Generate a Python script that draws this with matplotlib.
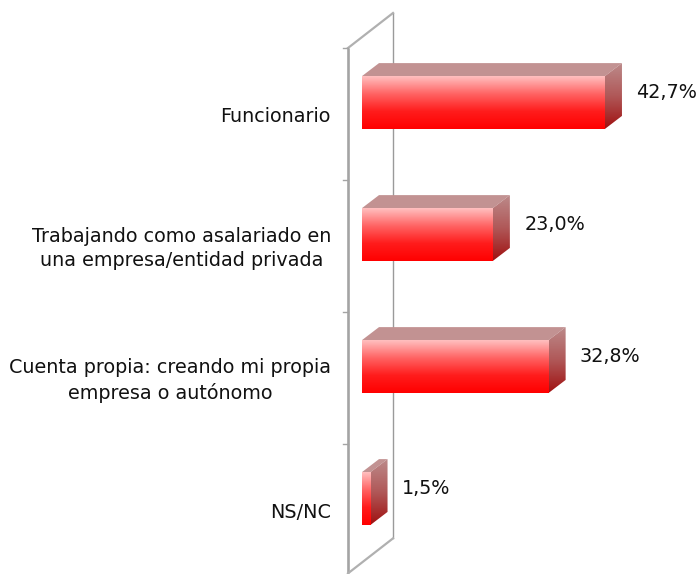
import numpy as np
import matplotlib
matplotlib.use("Agg")
import matplotlib.pyplot as plt
from matplotlib.patches import Polygon
from matplotlib.colors import LinearSegmentedColormap

categories = ["Funcionario",
              "Trabajando como asalariado en\nuna empresa/entidad privada",
              "Cuenta propia: creando mi propia\nempresa o autónomo",
              "NS/NC"]
values = [42.7, 23.0, 32.8, 1.5]

# 3D look, in data units (x = %, y = category index)
WALL_DX, WALL_DY = 7.91, -0.265      # depth of the floor/wall
BAR_X0, BAR_Y0 = 2.46, -0.087        # front face of bars inside the depth
BAR_DX, BAR_DY = 2.99, -0.0985       # bar thickness
BAR_H = 0.40

front_cmap = LinearSegmentedColormap.from_list(
    "front", ["#ffc0c0", "#ff6464", "#ff1c1c", "#ff0000"])
side_cmap = LinearSegmentedColormap.from_list(
    "side", ["#bc8a8a", "#b05858", "#a01010"])
grad = np.linspace(0, 1, 256).reshape(-1, 1)


def shaded(ax, verts, cmap):
    verts = np.asarray(verts)
    patch = Polygon(verts, closed=True, facecolor="none", edgecolor="none")
    ax.add_patch(patch)
    x0, x1 = verts[:, 0].min(), verts[:, 0].max()
    y0, y1 = verts[:, 1].min(), verts[:, 1].max()
    im = ax.imshow(grad, cmap=cmap, aspect="auto", extent=(x0, x1, y1, y0),
                   interpolation="bilinear", zorder=3)
    im.set_clip_path(patch)


fig = plt.figure(figsize=(6.99, 5.74), dpi=100)
ax = fig.add_axes([0, 0, 1, 1])

# wall on the left (value 0 plane)
n = len(categories)
top, bot = -0.5, n - 0.5 - 0.02
ax.add_patch(Polygon([(0, top), (WALL_DX, top + WALL_DY),
                      (WALL_DX, bot + WALL_DY), (0, bot)],
                     closed=True, facecolor="white", edgecolor="none", zorder=1))
ax.plot([0, 0], [top, bot], color="#a4a4a4", lw=1.9, zorder=2,
        solid_capstyle="butt")
ax.plot([WALL_DX, WALL_DX], [top + WALL_DY, bot + WALL_DY], color="#9a9a9a",
        lw=1.0, zorder=2)
for yy in (top, bot):
    ax.plot([0, WALL_DX], [yy, yy + WALL_DY], color="#b0b0b0", lw=1.6, zorder=2)
for i in range(n):
    ax.plot([-0.9, 0], [i - 0.5, i - 0.5], color="#a4a4a4", lw=1.0, zorder=2)

for i, (cat, v) in enumerate(zip(categories, values)):
    xa, xb = BAR_X0, BAR_X0 + v
    ya, yb = i + BAR_Y0 - BAR_H / 2, i + BAR_Y0 + BAR_H / 2
    # top face
    ax.add_patch(Polygon([(xa, ya), (xb, ya), (xb + BAR_DX, ya + BAR_DY),
                          (xa + BAR_DX, ya + BAR_DY)], closed=True,
                         facecolor="#c29292", edgecolor="none", zorder=3))
    # right face
    shaded(ax, [(xb, ya), (xb + BAR_DX, ya + BAR_DY),
                (xb + BAR_DX, yb + BAR_DY), (xb, yb)], side_cmap)
    # front face
    shaded(ax, [(xa, ya), (xb, ya), (xb, yb), (xa, yb)], front_cmap)

    ax.text(xb + 5.5, i - 0.16, f"{v:.1f}%".replace(".", ","),
            ha="left", va="center", fontsize=13.8, color="#111111", zorder=4)
    ax.text(-3.0, i + 0.02, cat, ha="right", va="center",
            multialignment="center", fontsize=13.8, color="#111111",
            linespacing=1.38, zorder=4)

ax.set_xlim(-61.16, 61.69)
ax.set_ylim(3.4848, -0.8636)
ax.axis("off")

fig.savefig("out.png", dpi=100)
